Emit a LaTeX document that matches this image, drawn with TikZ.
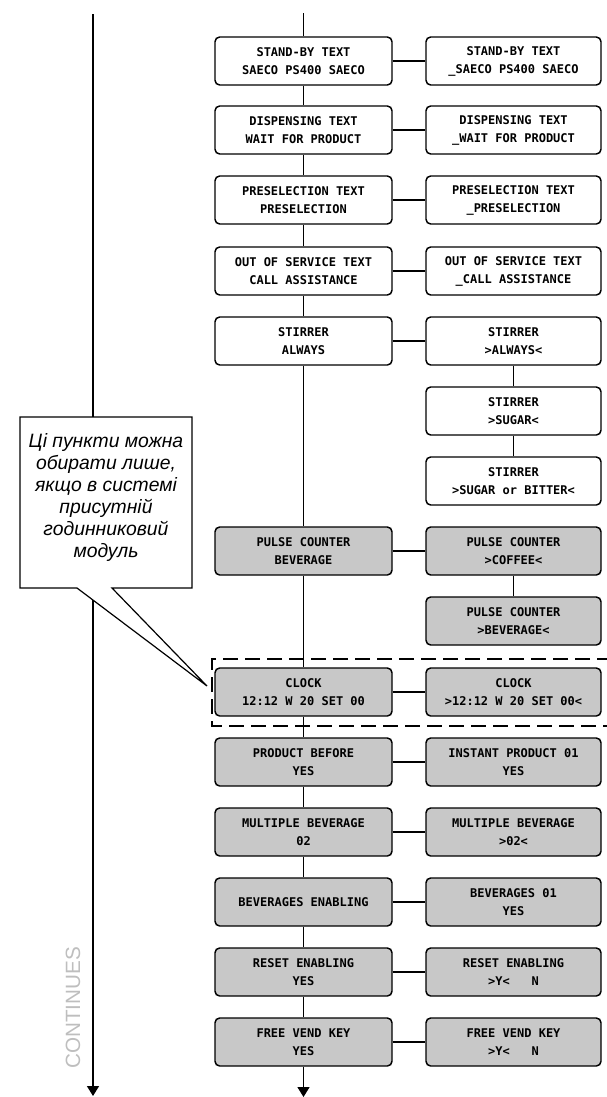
\documentclass[tikz,border=0pt]{standalone}
\usepackage{fontspec}
\setmainfont{Liberation Sans}
\newfontfamily\lcd{DejaVu Sans Mono}
\usetikzlibrary{arrows.meta}
\definecolor{boxgray}{RGB}{200,200,200}
\definecolor{contgray}{RGB}{190,190,190}
\begin{document}
\begin{tikzpicture}[x=0.75pt,y=-0.75pt,
  menubox/.style={draw=black,line width=1.1pt,rounded corners=3.5pt,fill=white,
    minimum height=36pt,inner sep=0pt,align=center,
    font=\lcd\bfseries\fontsize{9pt}{13.5pt}\selectfont},
  lbox/.style={menubox,minimum width=132.75pt},
  rbox/.style={menubox,minimum width=131.25pt},
  grey/.style={fill=boxgray},
  conn/.style={line width=1pt},
  flow/.style={line width=1pt,-{Triangle[width=9pt,length=7.5pt]}},
  frame/.style={line width=0.9pt,dash pattern=on 11pt off 5.5pt}
]
\useasboundingbox (0,0) rectangle (607,1097);

% clock frame
\draw[frame] (612,659) -- (212,659) -- (212,726) -- (612,726);

% left continuation line
\coordinate (lt) at (93,14);
\coordinate (lb) at (93,1096);
\draw[flow] (lt) -- (lb);
\node[rotate=90,text=contgray,font=\fontsize{15.5pt}{15.5pt}\selectfont] (cont) at (73,1008) {CONTINUES};

% main column
\node[lbox] (a1) at (303.5,61) {STAND-BY TEXT\\SAECO PS400 SAECO};
\node[lbox] (a2) at (303.5,130) {DISPENSING TEXT\\WAIT FOR PRODUCT};
\node[lbox] (a3) at (303.5,200) {PRESELECTION TEXT\\PRESELECTION};
\node[lbox] (a4) at (303.5,271) {OUT OF SERVICE TEXT\\CALL ASSISTANCE};
\node[lbox] (a5) at (303.5,341) {STIRRER\\ALWAYS};
\node[lbox,grey] (a6) at (303.5,551) {PULSE COUNTER\\BEVERAGE};
\node[lbox,grey] (a7) at (303.5,692) {CLOCK\\12:12 W 20 SET 00};
\node[lbox,grey] (a8) at (303.5,762) {PRODUCT BEFORE\\YES};
\node[lbox,grey] (a9) at (303.5,832) {MULTIPLE BEVERAGE\\02};
\node[lbox,grey] (a10) at (303.5,902) {BEVERAGES ENABLING};
\node[lbox,grey] (a11) at (303.5,972) {RESET ENABLING\\YES};
\node[lbox,grey] (a12) at (303.5,1042) {FREE VEND KEY\\YES};

% right column
\node[rbox] (b1) at (513.5,61) {STAND-BY TEXT\\\_SAECO PS400 SAECO};
\node[rbox] (b2) at (513.5,130) {DISPENSING TEXT\\\_WAIT FOR PRODUCT};
\node[rbox] (b3) at (513.5,200) {PRESELECTION TEXT\\\_PRESELECTION};
\node[rbox] (b4) at (513.5,271) {OUT OF SERVICE TEXT\\\_CALL ASSISTANCE};
\node[rbox] (b5) at (513.5,341) {STIRRER\\>ALWAYS<};
\node[rbox] (b5b) at (513.5,411) {STIRRER\\>SUGAR<};
\node[rbox] (b5c) at (513.5,481) {STIRRER\\>SUGAR or BITTER<};
\node[rbox,grey] (b6) at (513.5,551) {PULSE COUNTER\\>COFFEE<};
\node[rbox,grey] (b6b) at (513.5,621) {PULSE COUNTER\\>BEVERAGE<};
\node[rbox,grey] (b7) at (513.5,692) {CLOCK\\>12:12 W 20 SET 00<};
\node[rbox,grey] (b8) at (513.5,762) {INSTANT PRODUCT 01\\YES};
\node[rbox,grey] (b9) at (513.5,832) {MULTIPLE BEVERAGE\\>02<};
\node[rbox,grey] (b10) at (513.5,902) {BEVERAGES 01\\YES};
\node[rbox,grey] (b11) at (513.5,972) {RESET ENABLING\\>Y<\ \ \ N};
\node[rbox,grey] (b12) at (513.5,1042) {FREE VEND KEY\\>Y<\ \ \ N};

% main flow
\coordinate (mt) at (303.5,13);
\coordinate (mb) at (303.5,1097);
\draw[conn] (mt) -- (a1);
\foreach \i/\j in {a1/a2,a2/a3,a3/a4,a4/a5,a5/a6,a6/a7,a7/a8,a8/a9,a9/a10,a10/a11,a11/a12}
  \draw[conn] (\i) -- (\j);
\draw[flow] (a12) -- (mb);

% horizontal links
\foreach \i/\j in {a1/b1,a2/b2,a3/b3,a4/b4,a5/b5,a6/b6,a7/b7,a8/b8,a9/b9,a10/b10,a11/b11,a12/b12}
  \draw[conn] (\i) -- (\j);
% right column links
\draw[conn] (b5) -- (b5b);
\draw[conn] (b5b) -- (b5c);
\draw[conn] (b6) -- (b6b);

% redraw boxes above the connectors
\foreach \n in {a1,a2,a3,a4,a5,b1,b2,b3,b4,b5,b5b,b5c}{}

% callout
\coordinate (tip) at (207,686);
\draw[line width=0.9pt,fill=white] (20,417) -- (192,417) -- (192,588) -- (112,588) -- (tip) -- (77,588) -- (20,588) -- cycle;
\node[font=\itshape\fontsize{14.5pt}{16.5pt}\selectfont,align=center] (note) at (106,497)
  {Ці пункти можна\\обирати лише,\\якщо в системі\\присутній\\годинниковий\\модуль};
\end{tikzpicture}
\end{document}
